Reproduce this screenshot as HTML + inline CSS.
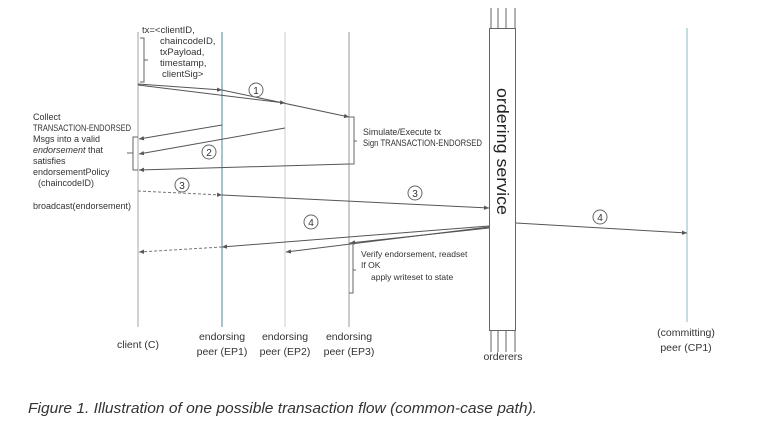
<!DOCTYPE html>
<html><head><meta charset="utf-8"><style>
html,body{margin:0;padding:0;background:#fff;}
svg{display:block;font-family:"Liberation Sans",sans-serif;}
</style></head><body>
<svg width="768" height="431" viewBox="0 0 768 431" xmlns="http://www.w3.org/2000/svg">
<defs>
<marker id="a" markerWidth="6" markerHeight="6" refX="5" refY="3" orient="auto" markerUnits="userSpaceOnUse"><path d="M0,0.8 L5,3 L0,5.2 z" fill="#555"/></marker>
</defs>
<rect width="768" height="431" fill="#fff"/>
<line x1="138" y1="32" x2="138" y2="327" stroke="#9aa8b0" stroke-width="1"/>
<line x1="222" y1="32" x2="222" y2="327" stroke="#4f8a96" stroke-width="1"/>
<line x1="285" y1="32" x2="285" y2="327" stroke="#cfcfcf" stroke-width="1"/>
<line x1="349" y1="32" x2="349" y2="327" stroke="#9a9a9a" stroke-width="1"/>
<line x1="687" y1="28" x2="687" y2="322" stroke="#8fb8bc" stroke-width="1"/>
<g stroke="#666" stroke-width="1" fill="none">
<line x1="491" y1="8" x2="491" y2="28"/><line x1="498" y1="8" x2="498" y2="28"/><line x1="506" y1="8" x2="506" y2="28"/><line x1="515" y1="8" x2="515" y2="28"/>
<rect x="489.5" y="28.5" width="26" height="302" fill="#fff"/>
<line x1="491" y1="331" x2="491" y2="352"/><line x1="498" y1="331" x2="498" y2="352"/><line x1="506" y1="331" x2="506" y2="352"/><line x1="515" y1="331" x2="515" y2="352"/>
</g>
<text transform="translate(497,88) rotate(90)" font-size="17" fill="#222" textLength="127" lengthAdjust="spacingAndGlyphs">ordering  service</text>
<g font-size="9.5" fill="#333">
<text x="142" y="33">tx=&lt;clientID,</text>
<text x="160" y="44">chaincodeID,</text>
<text x="160" y="55">txPayload,</text>
<text x="160" y="66">timestamp,</text>
<text x="162" y="77">clientSig&gt;</text>
</g>
<path d="M140,38 H144 V82 H140 M144,60 H148" stroke="#666" fill="none"/>
<g stroke="#555" stroke-width="1" fill="none" marker-end="url(#a)">
<line x1="138" y1="84" x2="222" y2="90"/>
<line x1="138" y1="85" x2="285" y2="103"/>
<line x1="222" y1="90" x2="349" y2="117"/>
</g>
<circle cx="256" cy="90" r="7" fill="none" stroke="#666"/><text x="256" y="94" font-size="10" text-anchor="middle" fill="#333">1</text>
<path d="M349,117 H354 V164 H349 M354,141 H357" stroke="#666" fill="none"/>
<g font-size="9" fill="#333"><text x="363" y="135" textLength="78" lengthAdjust="spacingAndGlyphs">Simulate/Execute tx</text><text x="363" y="146" textLength="119" lengthAdjust="spacingAndGlyphs">Sign TRANSACTION-ENDORSED</text></g>
<g stroke="#555" stroke-width="1" fill="none" marker-end="url(#a)">
<line x1="222" y1="125" x2="139" y2="139"/>
<line x1="285" y1="128" x2="139" y2="154"/>
<line x1="349" y1="164" x2="139" y2="170"/>
</g>
<circle cx="209" cy="152" r="7" fill="none" stroke="#666"/><text x="209" y="156" font-size="10" text-anchor="middle" fill="#333">2</text>
<path d="M138,137 H133 V170 H138 M133,153 H127" stroke="#666" fill="none"/>
<g font-size="9" fill="#333">
<text x="33" y="120">Collect</text>
<text x="33" y="131" textLength="98" lengthAdjust="spacingAndGlyphs">TRANSACTION-ENDORSED</text>
<text x="33" y="142">Msgs into a valid</text>
<text x="33" y="153"><tspan font-style="italic">endorsement</tspan> that</text>
<text x="33" y="164">satisfies</text>
<text x="33" y="175">endorsementPolicy</text>
<text x="38" y="186">(chaincodeID)</text>
<text x="33" y="209">broadcast(endorsement)</text>
</g>
<line x1="138" y1="191" x2="222" y2="195" stroke="#777" stroke-dasharray="3,2" marker-end="url(#a)"/>
<line x1="222" y1="195" x2="489" y2="208" stroke="#555" marker-end="url(#a)"/>
<circle cx="182" cy="185" r="7" fill="none" stroke="#666"/><text x="182" y="189" font-size="10" text-anchor="middle" fill="#333">3</text>
<circle cx="415" cy="193" r="7" fill="none" stroke="#666"/><text x="415" y="197" font-size="10" text-anchor="middle" fill="#333">3</text>
<g stroke="#555" stroke-width="1" fill="none" marker-end="url(#a)">
<line x1="489" y1="226" x2="222" y2="247"/>
<line x1="489" y1="227" x2="286" y2="252"/>
<line x1="489" y1="228" x2="350" y2="243"/>
<line x1="516" y1="223" x2="687" y2="233"/>
</g>
<line x1="222" y1="247" x2="139" y2="252" stroke="#777" stroke-dasharray="3,2" marker-end="url(#a)"/>
<circle cx="311" cy="222" r="7" fill="none" stroke="#666"/><text x="311" y="226" font-size="10" text-anchor="middle" fill="#333">4</text>
<circle cx="600" cy="217" r="7" fill="none" stroke="#666"/><text x="600" y="221" font-size="10" text-anchor="middle" fill="#333">4</text>
<path d="M349,243 H353 V293 H349 M353,270 H356" stroke="#666" fill="none"/>
<g font-size="8.5" fill="#333">
<text x="361" y="257">Verify endorsement,  readset</text>
<text x="361" y="268">If OK</text>
<text x="371" y="280">apply writeset to state</text>
</g>
<g font-size="10.5" fill="#333" text-anchor="middle">
<text x="138" y="348">client (C)</text>
<text x="222" y="340">endorsing</text><text x="222" y="355">peer (EP1)</text>
<text x="285" y="340">endorsing</text><text x="285" y="355">peer (EP2)</text>
<text x="349" y="340">endorsing</text><text x="349" y="355">peer (EP3)</text>
<text x="503" y="360">orderers</text>
<text x="686" y="336">(committing)</text><text x="686" y="351">peer (CP1)</text>
</g>
<text x="28" y="413" font-size="15" font-style="italic" fill="#333" textLength="509" lengthAdjust="spacingAndGlyphs">Figure 1. Illustration of one possible transaction flow (common-case path).</text>
</svg>
</body></html>
